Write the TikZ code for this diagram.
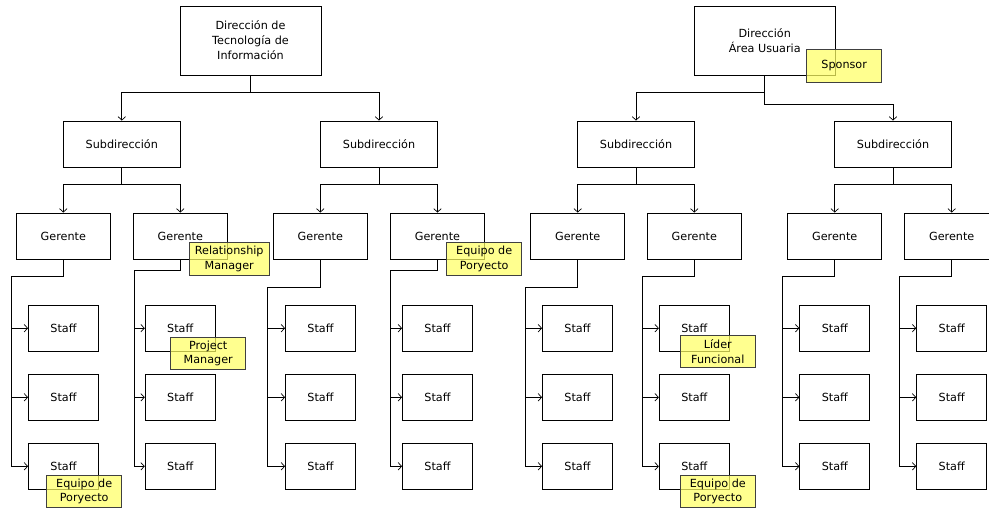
\documentclass[tikz,border=0pt]{standalone}
\usepackage{fontspec}
\setmainfont{DejaVu Sans}
\usetikzlibrary{arrows.meta}
\definecolor{note}{RGB}{255,255,100}
\tikzset{
  box/.style={draw=black, line width=0.8pt, fill=white, inner sep=0pt, align=center,
    font=\fontsize{11.2}{15}\selectfont, minimum height=46pt},
  topbox/.style={box, minimum width=141pt, minimum height=69pt},
  subbox/.style={box, minimum width=117pt},
  gerbox/.style={box, minimum width=94pt},
  staffbox/.style={box, minimum width=70pt},
  notebox/.style={draw=black!75, line width=0.7pt, fill=note, fill opacity=0.72, text opacity=1,
    inner sep=0pt, align=center, font=\fontsize{11.2}{14.7}\selectfont,
    minimum width=75pt, minimum height=32.5pt},
  line/.style={draw=black, line width=0.9pt},
  arr/.style={line, -{Straight Barb[length=3.5pt,width=7.5pt,line width=0.7pt]}},
}
\begin{document}
\begin{tikzpicture}[x=1pt,y=-1pt]
\useasboundingbox (0,0) rectangle (989,509);
\clip (0,0) rectangle (989,509);
\fill[white] (0,0) rectangle (989,509);

% top level
\node[topbox] (d1) at (250.5,40.5) {Dirección de\\Tecnología de\\Información};
\node[topbox] (d2) at (764.7,40.5) {Dirección\\Área Usuaria};

% subdirecciones
\node[subbox] (s1) at (121.8,144) {Subdirección};
\node[subbox] (s2) at (379,144) {Subdirección};
\node[subbox] (s3) at (636,144) {Subdirección};
\node[subbox] (s4) at (893,144) {Subdirección};

% gerentes
\foreach \i/\x in {1/63.3,2/180.3,3/320.3,4/437.5,5/577.7,6/694.3,7/834.7,8/951.7}{
  \node[gerbox] (g\i) at (\x,236) {Gerente};
}

% staff
\foreach \i/\x in {1/63.5,2/180.2,3/320.5,4/437.5,5/577.5,6/694.3,7/834.8,8/951.7}{
  \node[staffbox] (st\i1) at (\x,328.2) {Staff};
  \node[staffbox] (st\i2) at (\x,397.3) {Staff};
  \node[staffbox] (st\i3) at (\x,466.3) {Staff};
}

% connectors top level
\draw[arr] (d1.south) -- ++(0,17) -| (s1.north);
\draw[arr] (d1.south) -- ++(0,17) -| (s2.north);
\draw[arr] (d2.south) -- ++(0,17) -| (s3.north);
\draw[arr] (d2.south) -- ++(0,29.3) -| (s4.north);

% subdirection to gerentes
\draw[arr] (s1.south) -- ++(0,17) -| (g1.north);
\draw[arr] (s1.south) -- ++(0,17) -| (g2.north);
\draw[arr] (s2.south) -- ++(0,17) -| (g3.north);
\draw[arr] (s2.south) -- ++(0,17) -| (g4.north);
\draw[arr] (s3.south) -- ++(0,17) -| (g5.north);
\draw[arr] (s3.south) -- ++(0,17) -| (g6.north);
\draw[arr] (s4.south) -- ++(0,17) -| (g7.north);
\draw[arr] (s4.south) -- ++(0,17) -| (g8.north);

% gerente to staff trunks
\foreach \i/\x/\y in {1/11/276.3,2/134/270,3/267.7/287.7,4/390.7/270,5/525/287.7,6/642/276.3,7/782.3/276.3,8/899/276.3}{
  \coordinate (t\i) at (\x,\y);
  \draw[arr] (g\i.south) |- (t\i) |- (st\i3.west);
  \draw[arr] (t\i |- st\i1.west) -- (st\i1.west);
  \draw[arr] (t\i |- st\i2.west) -- (st\i2.west);
}

% yellow notes
\node[notebox, minimum width=79.7pt] (n1) at (229.2,258.7) {Relationship\\Manager};
\node[notebox] (n2) at (484.2,258.8) {Equipo de\\Poryecto};
\node[notebox] (n3) at (208.2,353.3) {Project\\Manager};
\node[notebox] (n4) at (84.2,491.5) {Equipo de\\Poryecto};
\node[notebox] (n5) at (717.8,351.3) {Líder\\Funcional};
\node[notebox] (n6) at (717.8,491.5) {Equipo de\\Poryecto};
\node[notebox] (n7) at (844.2,66) {Sponsor};
\end{tikzpicture}
\end{document}
